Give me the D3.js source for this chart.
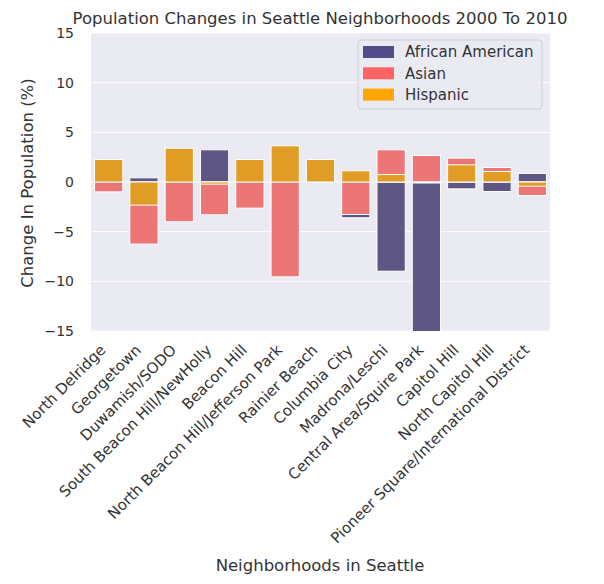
<!DOCTYPE html>
<html><head><meta charset="utf-8">
<script src="https://cdn.jsdelivr.net/npm/d3@7"></script>
<style>body{margin:0;background:#fff;} text{font-family:"DejaVu Sans",sans-serif;}</style>
</head><body>
<script>
const neighborhoods = ["North Delridge","Georgetown","Duwamish/SODO","South Beacon Hill/NewHolly","Beacon Hill","North Beacon Hill/Jefferson Park","Rainier Beach","Columbia City","Madrona/Leschi","Central Area/Squire Park","Capitol Hill","North Capitol Hill","Pioneer Square/International District"];
const africanAmerican = [-0.3, 0.42, -1.0, 3.24, -0.8, -1.5, 0.8, -3.6, -8.98, -15.5, -0.69, -0.96, 0.86];
const asian = [-0.99, -6.25, -4.0, -3.3, -2.63, -9.55, 1.0, -3.27, 3.24, 2.67, 2.4, 1.46, -1.36];
const hispanic = [2.27, -2.33, 3.4, -0.22, 2.27, 3.64, 2.27, 1.13, 0.75, -0.1, 1.73, 1.06, -0.42];
const yTicks = [-15, -10, -5, 0, 5, 10, 15];
const seriesNames = ["African American", "Asian", "Hispanic"];
const barColors = ["#5e5784", "#ec7575", "#e09c24"];
const legendColors = ["#534b8a", "#ff6464", "#ffa600"];

const W = 604, H = 584;
const m = {left: 91, right: 550, top: 33, bottom: 331};
const textColor = "#333333";
const svg = d3.select("body").append("svg").attr("width", W).attr("height", H);

const x = d3.scaleBand().domain(neighborhoods).range([m.left, m.right]).paddingInner(0.2).paddingOuter(0.1);
const y = d3.scaleLinear().domain([-15, 15]).range([m.bottom, m.top]);

svg.append("rect").attr("x", m.left).attr("y", m.top).attr("width", m.right - m.left).attr("height", m.bottom - m.top).attr("fill", "#eaeaf2");

svg.append("clipPath").attr("id", "clip").append("rect").attr("x", m.left).attr("y", m.top).attr("width", m.right - m.left).attr("height", m.bottom - m.top);

// grid
svg.append("g").selectAll("line").data(yTicks).join("line")
  .attr("x1", m.left).attr("x2", m.right).attr("y1", d => y(d)).attr("y2", d => y(d))
  .attr("stroke", "#fff").attr("stroke-width", 1);

const series = [africanAmerican, asian, hispanic];
const g = svg.append("g").attr("clip-path", "url(#clip)");
series.forEach((vals, si) => {
  g.append("g").selectAll("rect").data(vals).join("rect")
    .attr("x", (d, i) => x(neighborhoods[i]))
    .attr("width", x.bandwidth())
    .attr("y", d => y(Math.max(0, d)))
    .attr("height", d => Math.abs(y(d) - y(0)))
    .attr("fill", barColors[si])
    .attr("stroke", "#fff").attr("stroke-width", 1);
});

// y axis
const yAxis = svg.append("g").attr("transform", `translate(${m.left},0)`)
  .call(d3.axisLeft(y).tickValues(yTicks).tickSize(0).tickPadding(17).tickFormat(d => d < 0 ? "\u2212" + Math.abs(d) : d));
yAxis.select(".domain").remove();
yAxis.selectAll("text").attr("font-size", 14).attr("fill", textColor).attr("font-family", "DejaVu Sans");

// x axis
const xAxis = svg.append("g").attr("transform", `translate(0,${m.bottom})`)
  .call(d3.axisBottom(x).tickSize(0).tickPadding(6));
xAxis.select(".domain").remove();
xAxis.selectAll("text").attr("font-size", 15).attr("fill", textColor).attr("font-family", "DejaVu Sans")
  .attr("text-anchor", "end").attr("dy", "0.35em")
  .attr("transform", "translate(-10,12) rotate(-45)");

// title & labels
svg.append("text").attr("x", 320).attr("y", 24).attr("text-anchor", "middle")
  .attr("font-size", 16.5).attr("fill", textColor).text("Population Changes in Seattle Neighborhoods 2000 To 2010");
svg.append("text").attr("transform", `translate(33,${(m.top + m.bottom) / 2 + 1}) rotate(-90)`).attr("text-anchor", "middle")
  .attr("font-size", 16.5).attr("fill", textColor).text("Change In Population (%)");
svg.append("text").attr("x", 320).attr("y", 571).attr("text-anchor", "middle")
  .attr("font-size", 16.5).attr("fill", textColor).text("Neighborhoods in Seattle");

// legend
const lg = svg.append("g");
lg.append("rect").attr("x", 358).attr("y", 40).attr("width", 184).attr("height", 69).attr("rx", 3)
  .attr("fill", "#eaeaf2").attr("fill-opacity", 0.8).attr("stroke", "#d0d0d8");
seriesNames.forEach((n, i) => {
  const yy = 46 + i * 21.3;
  lg.append("rect").attr("x", 363).attr("y", yy).attr("width", 31).attr("height", 12).attr("fill", legendColors[i]);
  lg.append("text").attr("x", 405).attr("y", yy + 6).attr("dy", "0.35em").attr("font-size", 15).attr("fill", textColor).text(n);
});
</script>
</body></html>
